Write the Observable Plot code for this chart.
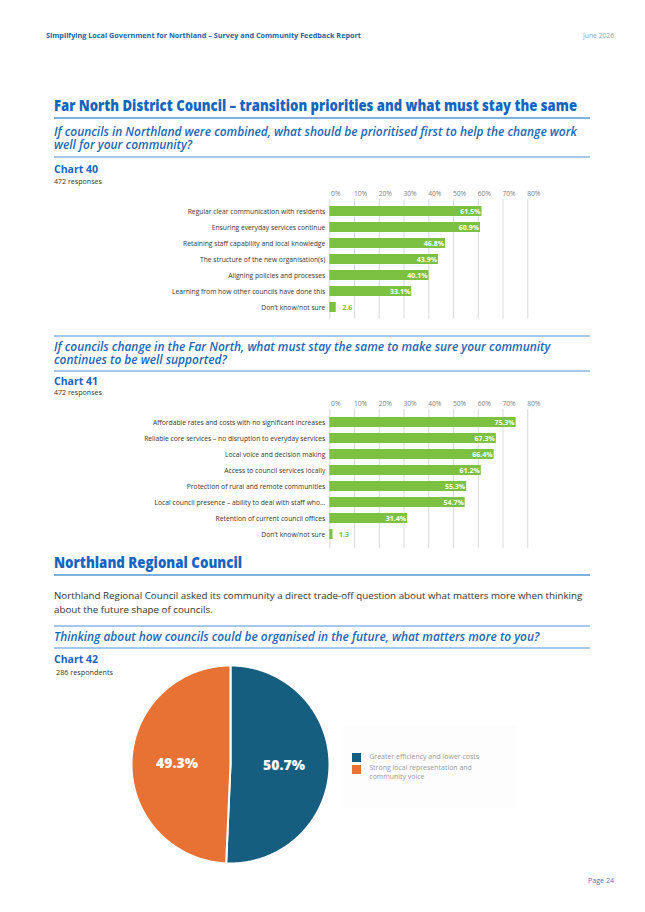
<!DOCTYPE html>
<html><head><meta charset="utf-8">
<script src="https://cdn.jsdelivr.net/npm/d3@7"></script>
<script src="https://cdn.jsdelivr.net/npm/@observablehq/plot@0.6"></script>
<style>
html,body{margin:0;padding:0;background:#fff;}
body{width:645px;height:912px;position:relative;overflow:hidden;font-family:'Open Sans',sans-serif;}
.t{position:absolute;white-space:pre;}
.rule{position:absolute;left:54px;width:536px;}
</style></head><body>
<script>
// ---------- data ----------
const priorityItems = [
  "Regular clear communication with residents",
  "Ensuring everyday services continue",
  "Retaining staff capability and local knowledge",
  "The structure of the new organisation(s)",
  "Aligning policies and processes",
  "Learning from how other councils have done this",
  "Don’t know/not sure"
];
const priorityValues = [61.5, 60.9, 46.8, 43.9, 40.1, 33.1, 2.6];

const stayItems = [
  "Affordable rates and costs with no significant increases",
  "Reliable core services – no disruption to everyday services",
  "Local voice and decision making",
  "Access to council services locally",
  "Protection of rural and remote communities",
  "Local council presence – ability to deal with staff who…",
  "Retention of current council offices",
  "Don’t know/not sure"
];
const stayValues = [75.3, 67.3, 66.4, 61.2, 55.3, 54.7, 31.4, 1.3];

const xTicks = [0, 10, 20, 30, 40, 50, 60, 70, 80];

const pieLabels = ["Greater efficiency and lower costs", "Strong local representation and community voice"];
const pieValues = [50.7, 49.3];
const pieColors = ["#165e80", "#e87134"];

// ---------- helpers ----------
const ctx = document.createElement("canvas").getContext("2d");
function fontStr(fs, weight, italic) { return `${italic ? "italic " : ""}${weight} ${fs}px 'Open Sans'`; }
function measure(text, font) { ctx.font = font; return ctx.measureText(text).width; }

function addText({lines, x, yc, lh, fs, weight = 400, italic = false, color, target, anchor = "start", scaleMode = false}) {
  let size = fs, sx = 1;
  if (target) {
    const w = measure(lines[0], fontStr(fs, weight, italic));
    if (scaleMode) sx = target / w; else size = fs * target / w;
  }
  lh = lh || size * 1.2;
  const d = document.createElement("div");
  d.className = "t";
  d.textContent = lines.join("\n");
  Object.assign(d.style, {
    fontSize: size + "px", fontWeight: weight, fontStyle: italic ? "italic" : "normal",
    color, lineHeight: lh + "px",
    top: (yc - lh / 2 - 0.068 * size) + "px"
  });
  if (anchor === "end") { d.style.right = (645 - x) + "px"; d.style.transformOrigin = "right center"; d.style.textAlign = "right"; }
  else { d.style.left = x + "px"; d.style.transformOrigin = "left center"; }
  if (sx !== 1) d.style.transform = `scaleX(${sx})`;
  document.body.appendChild(d);
}
function addRule(y, h, color) {
  const d = document.createElement("div");
  d.className = "rule";
  Object.assign(d.style, {top: (y - h / 2) + "px", height: h + "px", background: color});
  document.body.appendChild(d);
}
function place(node, left, top) {
  node.style.position = "absolute";
  node.style.left = left + "px";
  node.style.top = top + "px";
  document.body.appendChild(node);
}

const BLUE = "#1565c0";
const QBLUE = "#1a67b9";
const RULE = "#a6c8ea";
const RULE2 = "#7eb0e0";

// ---------- page text ----------
addText({lines: ["Simplifying Local Government for Northland – Survey and Community Feedback Report"], x: 46, yc: 36, fs: 7, weight: 700, color: "#1d5fa6", target: 315});
addText({lines: ["June 2026"], x: 614, yc: 36, fs: 7, color: "#7d9fcb", target: 31, anchor: "end"});

addText({lines: ["Far North District Council – transition priorities and what must stay the same"], x: 54, yc: 106, fs: 15, weight: 800, color: BLUE, target: 523, scaleMode: true});
addRule(118, 2, RULE2);

addText({lines: ["If councils in Northland were combined, what should be prioritised first to help the change work", "well for your community?"], x: 54, yc: 132, lh: 13, fs: 11.5, weight: 600, italic: true, color: QBLUE, target: 523});
addRule(157, 1.5, RULE);
addText({lines: ["Chart 40"], x: 54, yc: 170, fs: 12, weight: 700, color: BLUE, target: 44});
addText({lines: ["472 responses"], x: 54, yc: 182, fs: 7, color: "#333", target: 48});

addRule(336, 1.5, RULE);
addText({lines: ["If councils change in the Far North, what must stay the same to make sure your community", "continues to be well supported?"], x: 54, yc: 347, lh: 13, fs: 11.5, weight: 600, italic: true, color: QBLUE, target: 497});
addRule(371, 1.5, RULE);
addText({lines: ["Chart 41"], x: 54, yc: 382, fs: 12, weight: 700, color: BLUE, target: 44});
addText({lines: ["472 responses"], x: 54, yc: 393, fs: 7, color: "#333", target: 48});

addText({lines: ["Northland Regional Council"], x: 54, yc: 563, fs: 15, weight: 800, color: BLUE, target: 188, scaleMode: true});
addRule(575, 2, RULE2);
addText({lines: ["Northland Regional Council asked its community a direct trade-off question about what matters more when thinking", "about the future shape of councils."], x: 54, yc: 597, lh: 14, fs: 10, color: "#333", target: 529});
addRule(626, 1.5, RULE);
addText({lines: ["Thinking about how councils could be organised in the future, what matters more to you?"], x: 54, yc: 637, fs: 11.5, weight: 600, italic: true, color: QBLUE, target: 486});
addRule(648, 1.5, RULE);
addText({lines: ["Chart 42"], x: 54, yc: 660, fs: 12, weight: 700, color: BLUE, target: 44});
addText({lines: ["286 respondents"], x: 56, yc: 673, fs: 7, color: "#333", target: 57});

addText({lines: ["Page 24"], x: 614, yc: 881, fs: 8, color: "#3f78b8", target: 26, anchor: "end"});

// ---------- bar charts ----------
const catFs = 10 * (138 / measure(priorityItems[0], fontStr(10, 400, false)) + 181 / measure(stayItems[1], fontStr(10, 400, false))) / 2;
const GREEN = "#7cc142";

function barChart(cats, vals, step) {
  const data = cats.map((c, i) => ({cat: c, v: vals[i]}));
  const pad = 0.38;
  const mt = 14, mb = 2;
  const height = mt + mb + step * (cats.length + pad);
  return Plot.plot({
    width: 510, height,
    marginLeft: 289.3, marginRight: 22.7, marginTop: mt, marginBottom: mb,
    x: {domain: [0, 80]},
    y: {domain: cats, padding: pad},
    style: {fontFamily: "'Open Sans', sans-serif", background: "transparent", color: "#333"},
    marks: [
      Plot.ruleX(xTicks, {stroke: "#d9d9d9", strokeWidth: 1}),
      Plot.axisX({ticks: xTicks, anchor: "top", tickSize: 0, tickPadding: 3, dx: 6, tickFormat: d => d + "%", color: "#7f7f7f", fontSize: catFs, label: null}),
      Plot.axisY({tickSize: 0, tickPadding: 4.5, fontSize: catFs, color: "#333", label: null}),
      Plot.barX(data, {x: "v", y: "cat", fill: GREEN}),
      Plot.text(data.filter(d => d.v >= 5), {x: "v", y: "cat", text: d => d.v.toFixed(1) + "%", textAnchor: "end", dx: -1.5, fill: "white", fontWeight: 700, fontSize: 7}),
      Plot.text(data.filter(d => d.v < 5), {x: "v", y: "cat", text: d => d.v.toFixed(1), textAnchor: "start", dx: 6, fill: GREEN, fontWeight: 700, fontSize: 7})
    ]
  });
}

place(barChart(priorityItems, priorityValues, 16.2), 40, 185);
place(barChart(stayItems, stayValues, 16.57), 40, 395.3);

// ---------- pie chart ----------
const arcs = d3.pie().sort(null)(pieValues);
const piePts = [];
arcs.forEach((a, i) => {
  piePts.push({s: pieLabels[i], x: 0, y: 0});
  const n = Math.ceil((a.endAngle - a.startAngle) / 0.01);
  for (let k = 0; k <= n; k++) {
    const t = a.startAngle + (a.endAngle - a.startAngle) * k / n;
    piePts.push({s: pieLabels[i], x: Math.sin(t), y: Math.cos(t)});
  }
});
const mid = a => (a.startAngle + a.endAngle) / 2;
const pie = Plot.plot({
  width: 202, height: 202, margin: 2,
  x: {domain: [-1, 1], axis: null},
  y: {domain: [-1, 1], axis: null},
  color: {domain: pieLabels, range: pieColors},
  style: {fontFamily: "'Open Sans', sans-serif", background: "transparent"},
  marks: [
    Plot.line(piePts, {x: "x", y: "y", z: "s", fill: "s", stroke: "white", strokeWidth: 2, curve: "linear-closed"}),
    Plot.text(arcs, {x: a => 0.54 * Math.sin(mid(a)), y: a => 0.54 * Math.cos(mid(a)), text: a => a.value.toFixed(1) + "%", fill: "white", fontSize: 14, fontWeight: 800})
  ]
});
place(pie, 128.9, 663);

// ---------- legend ----------
const lg = document.createElement("div");
Object.assign(lg.style, {position: "absolute", left: "343px", top: "725px", width: "175px", height: "83px", background: "#fdfdfd"});
document.body.appendChild(lg);
const legFs = 7 * 110 / measure(pieLabels[0], fontStr(7, 400, false));
[[753.3, pieColors[0]], [765, pieColors[1]]].forEach(([y, c]) => {
  const sq = document.createElement("div");
  Object.assign(sq.style, {position: "absolute", left: "352.3px", top: y + "px", width: "8.7px", height: "8.7px", background: c});
  document.body.appendChild(sq);
});
addText({lines: [pieLabels[0]], x: 369.3, yc: 757.6, fs: legFs, color: "#9a9a9a"});
addText({lines: ["Strong local representation and", "community voice"], x: 369.3, yc: 769, lh: 8.4, fs: legFs, color: "#9a9a9a"});
</script>
</body></html>
